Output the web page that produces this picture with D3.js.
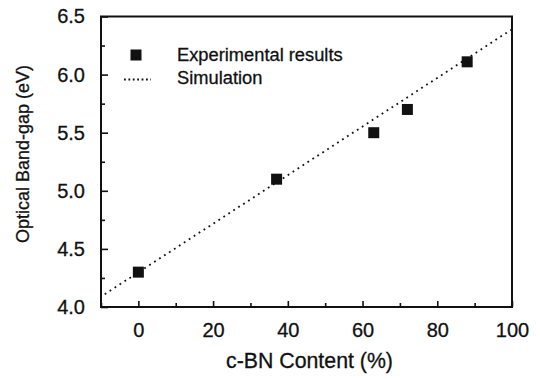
<!DOCTYPE html>
<html>
<head>
<meta charset="utf-8">
<script src="https://cdn.jsdelivr.net/npm/d3@7"></script>
<style>
  html, body { margin: 0; padding: 0; background: #fff; }
  svg { display: block; font-family: "Liberation Sans", Arial, Helvetica, sans-serif; }
  svg text { stroke: #111; stroke-width: 0.3px; }
</style>
</head>
<body>
<svg id="chart" width="540" height="379"></svg>
<script>
// Measured optical band-gap vs. c-BN content
const cbnContent = [0, 37, 63, 72, 88];
const bandGap = [4.30, 5.10, 5.50, 5.70, 6.11];

// Simulated linear trend (end points)
const simContent = [-9, 100];
const simGap = [4.11, 6.39];

const xTicks = [0, 20, 40, 60, 80, 100];
const xMinorTicks = [-10, 10, 30, 50, 70, 90];
const yTicks = [4.0, 4.5, 5.0, 5.5, 6.0, 6.5];
const yMinorTicks = [4.25, 4.75, 5.25, 5.75, 6.25];

const legendLabels = ["Experimental results", "Simulation"];
const xTitle = "c-BN Content (%)";
const yTitle = "Optical Band-gap (eV)";

const svg = d3.select("#chart");
const ink = "#111";

const plotLeft = 101, plotRight = 512, plotTop = 16.5, plotBottom = 307;

const x = d3.scaleLinear().domain([-10, 100]).range([plotLeft, plotRight]);
const y = d3.scaleLinear().domain([4.0, 6.5]).range([plotBottom, plotTop]);

// Simulation line (dotted)
const simPts = simContent.map((c, i) => [c, simGap[i]]);
svg.append("path")
  .datum(simPts)
  .attr("d", d3.line().x(d => x(d[0])).y(d => y(d[1])))
  .attr("fill", "none")
  .attr("stroke", ink)
  .attr("stroke-width", 1.8)
  .attr("stroke-dasharray", "1.8 4.1");

// Experimental points
const sq = 11;
svg.append("g")
  .selectAll("rect")
  .data(cbnContent.map((c, i) => [c, bandGap[i]]))
  .join("rect")
  .attr("x", d => x(d[0]) - sq / 2)
  .attr("y", d => y(d[1]) - sq / 2)
  .attr("width", sq)
  .attr("height", sq)
  .attr("fill", ink);

// Axes with inward ticks
const axisFont = 20;
const xAxis = svg.append("g").attr("transform", `translate(0,${plotBottom})`)
  .call(d3.axisBottom(x).tickValues(xTicks).tickFormat(d3.format("d"))
    .tickSize(-6).tickPadding(16));
const xMinor = svg.append("g").attr("transform", `translate(0,${plotBottom})`)
  .call(d3.axisBottom(x).tickValues(xMinorTicks).tickFormat("").tickSize(-4));
const yAxis = svg.append("g").attr("transform", `translate(${plotLeft},0)`)
  .call(d3.axisLeft(y).tickValues(yTicks).tickFormat(d3.format(".1f"))
    .tickSize(-7).tickPadding(16));
const yMinor = svg.append("g").attr("transform", `translate(${plotLeft},0)`)
  .call(d3.axisLeft(y).tickValues(yMinorTicks).tickFormat("").tickSize(-4));

[xAxis, xMinor, yAxis, yMinor].forEach(g => {
  g.select(".domain").remove();
  g.selectAll(".tick line").attr("stroke", ink).attr("stroke-width", 1.6);
  g.selectAll(".tick text").attr("fill", ink).attr("font-size", axisFont);
});

// Frame
svg.append("rect")
  .attr("x", plotLeft).attr("y", plotTop)
  .attr("width", plotRight - plotLeft).attr("height", plotBottom - plotTop)
  .attr("fill", "none").attr("stroke", ink).attr("stroke-width", 2);

// Axis titles
svg.append("text")
  .attr("x", 309.5).attr("y", 368)
  .attr("text-anchor", "middle")
  .attr("font-size", 21.3).attr("fill", ink)
  .text(xTitle);

svg.append("text")
  .attr("transform", `translate(29,154) rotate(-90)`)
  .attr("text-anchor", "middle")
  .attr("font-size", 18).attr("fill", ink)
  .text(yTitle);

// Legend
const legend = svg.append("g");
legend.append("rect")
  .attr("x", 136 - sq / 2).attr("y", 55 - sq / 2)
  .attr("width", sq).attr("height", sq).attr("fill", ink);
legend.append("line")
  .attr("x1", 124).attr("x2", 151).attr("y1", 79.5).attr("y2", 79.5)
  .attr("stroke", ink).attr("stroke-width", 1.8)
  .attr("stroke-dasharray", "1.8 2.6");
legend.selectAll("text.lbl")
  .data(legendLabels)
  .join("text")
  .attr("class", "lbl")
  .attr("x", 177)
  .attr("y", (d, i) => 61 + i * 22.5)
  .attr("font-size", 18.3)
  .attr("fill", ink)
  .text(d => d);
</script>
</body>
</html>
